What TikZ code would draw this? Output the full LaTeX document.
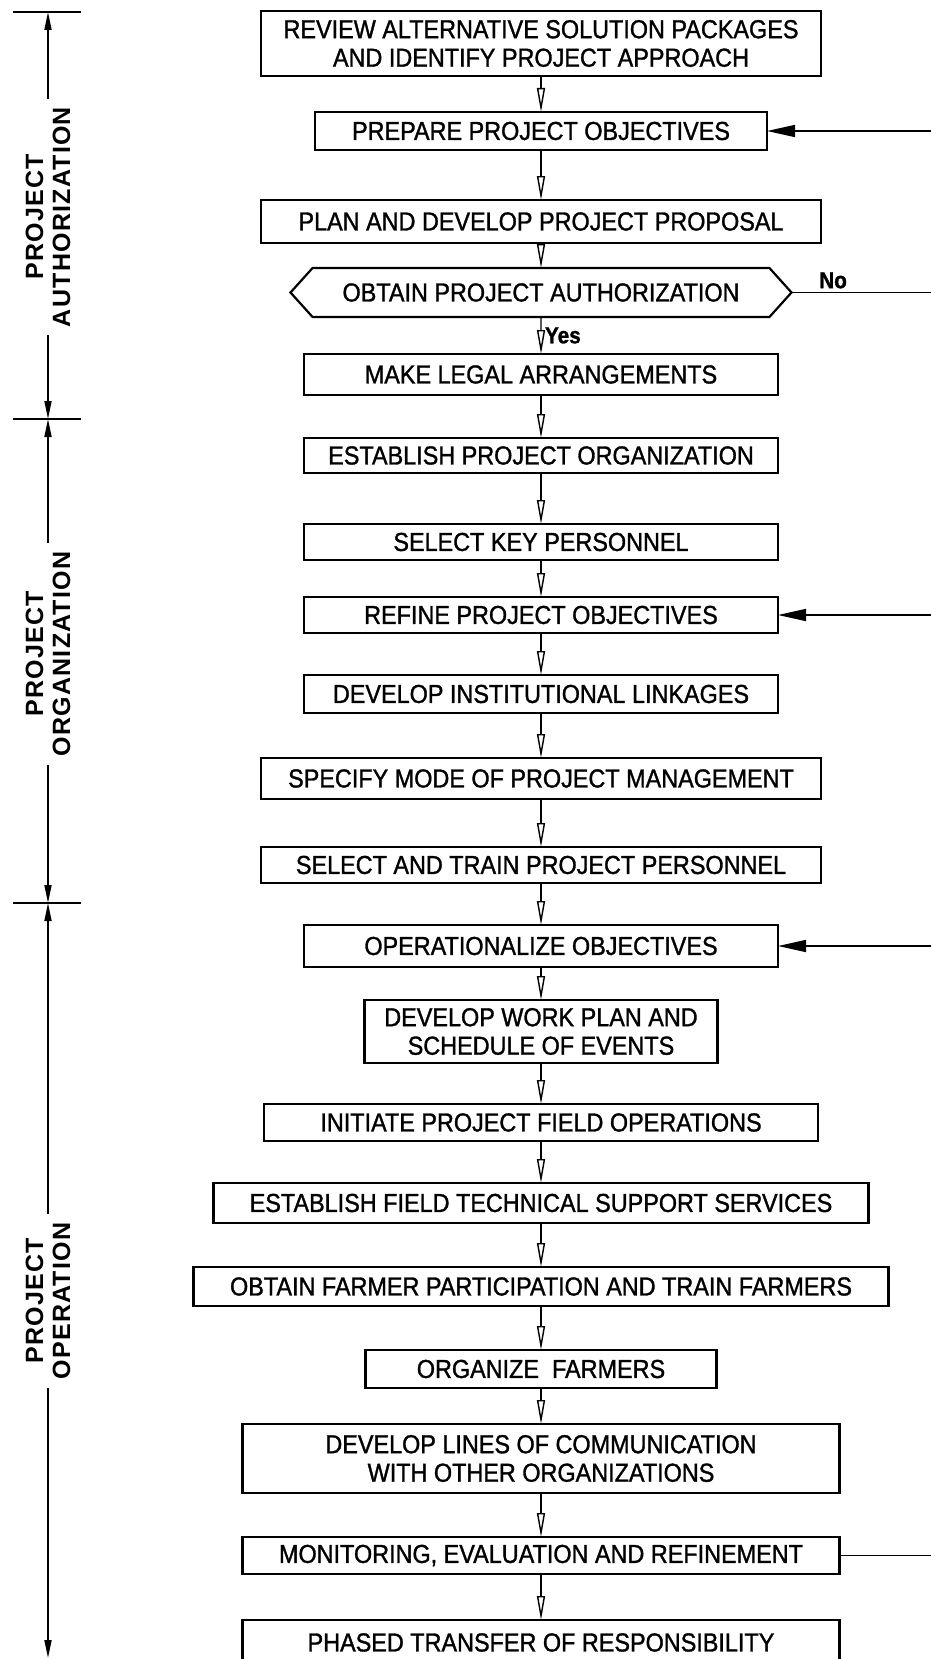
\documentclass[tikz,border=0pt]{standalone}
\usepackage{fontspec}
\setmainfont{Liberation Sans}
\newfontfamily\boxfont{Liberation Sans}[FakeStretch=0.9, FakeBold=1.2]
\newfontfamily\sidefont{Liberation Sans}[LetterSpace=5]
\usetikzlibrary{shapes.symbols, arrows.meta, positioning}

\begin{document}
\begin{tikzpicture}[
		x=1pt, y=-1pt,
		box/.style={draw, line width=2.2pt, outer sep=0pt, minimum width=474pt, minimum height=38pt, inner xsep=6pt, inner ysep=3pt, align=center, font=\boxfont\fontsize{26}{28.5}\selectfont},
		decide/.style={draw, line width=2.2pt, outer sep=0pt, signal, signal to=west and east, signal pointer angle=96, minimum width=501pt, minimum height=49pt, inner sep=3pt, font=\boxfont\fontsize{26}{28.5}\selectfont},
		side/.style={rotate=90, align=center, inner sep=8pt, font=\sidefont\bfseries\fontsize{25}{27}\selectfont},
		tag/.style={font=\boxfont\bfseries\fontsize{23}{25}\selectfont},
		flow/.style={line width=1.4pt, -{Triangle[open, length=24pt, width=8pt]}},
		fb/.style={line width=1.6pt, -{Triangle[length=28pt, width=12pt]}},
		dim/.style={line width=1.7pt, -{Triangle[length=18pt, width=7pt]}}
		]
		
		\useasboundingbox (0,0) rectangle (931,1659);
		\clip (0,0) rectangle (931,1659);
		
		% Flow chart boxes
		\node[box, minimum width=560pt, minimum height=65pt] (review) at (541,43.5) {REVIEW ALTERNATIVE SOLUTION PACKAGES\\AND IDENTIFY PROJECT APPROACH};
		\node[box, minimum width=452pt, below=36pt of review] (prepobj) {PREPARE PROJECT OBJECTIVES};
		\node[box, minimum width=560pt, minimum height=43pt, below=50pt of prepobj] (plan) {PLAN AND DEVELOP PROJECT PROPOSAL};
		\node[decide, below=25pt of plan] (authz) {OBTAIN PROJECT AUTHORIZATION};
		\node[box, minimum height=41pt, below=37pt of authz] (legal) {MAKE LEGAL ARRANGEMENTS};
		
		\node[box, minimum height=35pt, below=43pt of legal] (estorg) {ESTABLISH PROJECT ORGANIZATION};
		\node[box, minimum height=36pt, below=51pt of estorg] (keyper) {SELECT KEY PERSONNEL};
		\node[box, minimum height=36pt, below=37pt of keyper] (refine) {REFINE PROJECT OBJECTIVES};
		\node[box, below=42pt of refine] (linkage) {DEVELOP INSTITUTIONAL LINKAGES};
		\node[box, minimum width=560pt, minimum height=41pt, below=45pt of linkage] (mode) {SPECIFY MODE OF PROJECT MANAGEMENT};
		\node[box, minimum width=560pt, minimum height=36pt, below=48pt of mode] (train) {SELECT AND TRAIN PROJECT PERSONNEL};
		
		\node[box, minimum height=42pt, below=42pt of train] (operobj) {OPERATIONALIZE OBJECTIVES};
		\node[box, minimum width=353pt, minimum height=63pt, below=33pt of operobj] (workplan) {DEVELOP WORK PLAN AND\\SCHEDULE OF EVENTS};
		\node[box, minimum width=554pt, minimum height=37pt, below=41pt of workplan] (initiate) {INITIATE PROJECT FIELD OPERATIONS};
		\node[box, minimum width=655pt, minimum height=40pt, below=42pt of initiate] (support) {ESTABLISH FIELD TECHNICAL SUPPORT SERVICES};
		\node[box, minimum width=695pt, minimum height=39pt, below=44pt of support] (farmpart) {OBTAIN FARMER PARTICIPATION AND TRAIN FARMERS};
		\node[box, minimum width=351pt, minimum height=38pt, below=44pt of farmpart] (orgfarm) {ORGANIZE\ \ FARMERS};
		\node[box, minimum width=597pt, minimum height=69pt, below=36pt of orgfarm] (commlines) {DEVELOP LINES OF COMMUNICATION\\WITH OTHER ORGANIZATIONS};
		\node[box, minimum width=597pt, minimum height=37pt, below=44pt of commlines] (monitor) {MONITORING, EVALUATION AND REFINEMENT};
		\node[box, minimum width=597pt, minimum height=45pt, below=46pt of monitor] (transfer) {PHASED TRANSFER OF RESPONSIBILITY};
		
		% Arrows
		\foreach \i/\j in {review/prepobj, prepobj/plan, plan/authz, legal/estorg,
			estorg/keyper, keyper/refine, refine/linkage, linkage/mode, mode/train,
			train/operobj, operobj/workplan, workplan/initiate, initiate/support,
			support/farmpart, farmpart/orgfarm, orgfarm/commlines, commlines/monitor,
			monitor/transfer}
		\draw[flow] (\i) -- (\j);
		\draw[flow] (authz) -- node[tag, right] {Yes} (legal);
		
		% Feedback lines (right edge)
		\coordinate (edge) at (940,0);
		\coordinate (fbprep) at (prepobj.east -| edge);
		\coordinate (fbno) at (authz.east -| edge);
		\coordinate (fbrefine) at (refine.east -| edge);
		\coordinate (fboper) at (operobj.east -| edge);
		\coordinate (fbmon) at (monitor.east -| edge);
		\draw[fb] (fbprep) -- (prepobj);
		\draw[line width=1.6pt] (authz.east) -- node[tag, above, pos=0.28] {No} (fbno);
		\draw[fb] (fbrefine) -- (refine);
		\draw[fb] (fboper) -- (operobj);
		\draw[line width=1.6pt] (monitor) -- (fbmon);
		
		% Phase brackets
		\coordinate (t1) at (48,12);
		\coordinate (t2) at (48,419);
		\coordinate (t3) at (48,903);
		\coordinate (t4) at (48,1658);
		\node[side] (secauth) at (48,217) {PROJECT\\AUTHORIZATION};
		\node[side] (secorg) at (48,654) {PROJECT\\ORGANIZATION};
		\node[side] (secop) at (48,1301) {PROJECT\\OPERATION};
		\foreach \t in {t1, t2, t3}
		\draw[line width=1.7pt] ([xshift=-35pt]\t) -- ([xshift=33pt]\t);
		\foreach \s/\a/\b in {secauth/t1/t2, secorg/t2/t3, secop/t3/t4} {
			\draw[dim] (\s.east) -- (\a);
			\draw[dim] (\s.west) -- (\b);
		}
		
	\end{tikzpicture}
\end{document}
